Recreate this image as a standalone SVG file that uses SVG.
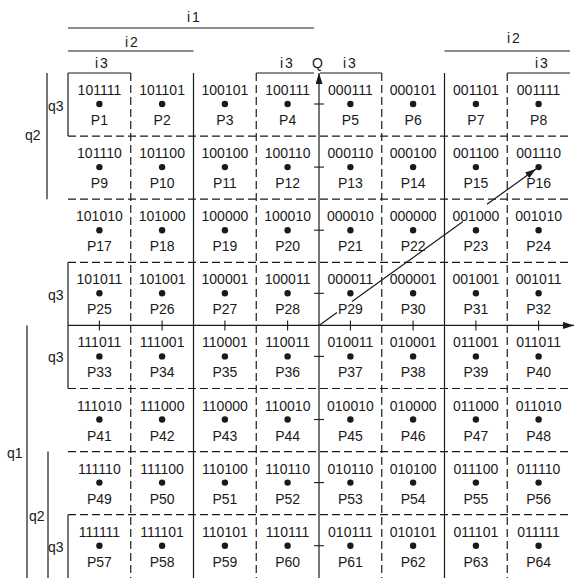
<svg xmlns="http://www.w3.org/2000/svg" width="575" height="578" viewBox="0 0 575 578">
<defs>
<marker id="ah" markerUnits="userSpaceOnUse" markerWidth="11" markerHeight="7" refX="11" refY="3.5" orient="auto">
<path d="M0,0 L11,3.5 L0,7 z" fill="#1a1a1a"/>
</marker>
</defs>
<style>
text{font-family:"Liberation Sans",Arial,sans-serif;fill:#1a1a1a;}
.b,.p{font-size:14px;text-anchor:middle;}
.lb{font-size:14px;letter-spacing:2px;}
.ln{stroke:#1a1a1a;stroke-width:1.2;fill:none;}
.ds{stroke:#1a1a1a;stroke-width:1.2;fill:none;stroke-dasharray:8 4;}
.tk{stroke:#1a1a1a;stroke-width:1.1;}
circle{fill:#1a1a1a;}
</style>
<rect width="575" height="578" fill="#fff"/>

<g id="labels">
<text class="lb" x="187" y="22">i1</text>
<line class="ln" x1="68" y1="28" x2="314" y2="28"/>
<text class="lb" x="125" y="47">i2</text>
<line class="ln" x1="68" y1="51" x2="193.5" y2="51"/>
<text class="lb" x="507" y="43">i2</text>
<line class="ln" x1="444.5" y1="51" x2="570" y2="51"/>
<text class="lb" x="95" y="68">i3</text>
<text class="lb" x="280" y="68">i3</text>
<text class="lb" x="343" y="68">i3</text>
<text class="lb" x="535" y="68">i3</text>
<text style="font-size:14px" x="312" y="68">Q</text>
<line class="ln" x1="68" y1="73" x2="130.75" y2="73"/>
<line class="ln" x1="256.25" y1="73" x2="314" y2="73"/>
<line class="ln" x1="320" y1="73" x2="381.75" y2="73"/>
<line class="ln" x1="507.25" y1="73" x2="570" y2="73"/>

<text class="lb" x="48" y="111" style="letter-spacing:0">q3</text>
<text class="lb" x="48" y="300" style="letter-spacing:0">q3</text>
<text class="lb" x="48" y="362" style="letter-spacing:0">q3</text>
<text class="lb" x="48" y="552" style="letter-spacing:0">q3</text>
<text class="lb" x="25" y="140" style="letter-spacing:0">q2</text>
<text class="lb" x="29" y="521" style="letter-spacing:0">q2</text>
<text class="lb" x="7" y="458" style="letter-spacing:0">q1</text>
<line class="ln" x1="68" y1="73" x2="68" y2="136.1"/>
<line class="ln" x1="68" y1="262.3" x2="68" y2="388.5"/>
<line class="ln" x1="68" y1="514.7" x2="68" y2="578"/>
<line class="ln" x1="47" y1="73" x2="47" y2="199.2"/>
<line class="ln" x1="48" y1="451.6" x2="48" y2="578"/>
<line class="ln" x1="27" y1="325.4" x2="27" y2="578"/>
</g>

<g id="grid">
<line class="ds" x1="130.75" y1="73" x2="130.75" y2="578"/>
<line class="ln" x1="193.5" y1="73" x2="193.5" y2="578"/>
<line class="ds" x1="256.25" y1="73" x2="256.25" y2="578"/>
<line class="ds" x1="381.75" y1="73" x2="381.75" y2="578"/>
<line class="ln" x1="444.5" y1="73" x2="444.5" y2="578"/>
<line class="ds" x1="507.25" y1="73" x2="507.25" y2="578"/>
<line class="ds" x1="68" y1="136.1" x2="570" y2="136.1"/>
<line class="ds" x1="68" y1="199.2" x2="570" y2="199.2"/>
<line class="ds" x1="68" y1="262.3" x2="570" y2="262.3"/>
<line class="ds" x1="68" y1="388.5" x2="570" y2="388.5"/>
<line class="ds" x1="68" y1="451.6" x2="570" y2="451.6"/>
<line class="ds" x1="68" y1="514.7" x2="570" y2="514.7"/>
</g>

<g id="connectors">
<line class="ln" x1="68" y1="325.4" x2="574" y2="325.4" marker-end="url(#ah)"/>
<line class="ln" x1="319" y1="578" x2="319" y2="73" marker-end="url(#ah)"/>
<g class="tk">
<line x1="314" y1="104" x2="324" y2="104"/>
<line x1="314" y1="167.1" x2="324" y2="167.1"/>
<line x1="314" y1="230.2" x2="324" y2="230.2"/>
<line x1="314" y1="293.3" x2="324" y2="293.3"/>
<line x1="314" y1="356.4" x2="324" y2="356.4"/>
<line x1="314" y1="419.5" x2="324" y2="419.5"/>
<line x1="314" y1="482.6" x2="324" y2="482.6"/>
<line x1="314" y1="545.7" x2="324" y2="545.7"/>
<line x1="99.4" y1="320.4" x2="99.4" y2="330.4"/>
<line x1="162.1" y1="320.4" x2="162.1" y2="330.4"/>
<line x1="224.9" y1="320.4" x2="224.9" y2="330.4"/>
<line x1="287.6" y1="320.4" x2="287.6" y2="330.4"/>
<line x1="350.4" y1="320.4" x2="350.4" y2="330.4"/>
<line x1="413.1" y1="320.4" x2="413.1" y2="330.4"/>
<line x1="475.9" y1="320.4" x2="475.9" y2="330.4"/>
<line x1="538.6" y1="320.4" x2="538.6" y2="330.4"/>
</g>
<line class="ln" x1="319" y1="325.4" x2="337" y2="312.4"/>
<line class="ln" x1="352" y1="301.6" x2="463" y2="221.6"/>
<line class="ln" x1="487" y1="204.3" x2="536" y2="169" marker-end="url(#ah)"/>
</g>

<g id="p1" transform="translate(99.4,73)"><text class="b" y="22">101111</text><circle cy="31" r="3.2"/><text class="p" y="52">P1</text></g>
<g id="p2" transform="translate(162.1,73)"><text class="b" y="22">101101</text><circle cy="31" r="3.2"/><text class="p" y="52">P2</text></g>
<g id="p3" transform="translate(224.9,73)"><text class="b" y="22">100101</text><circle cy="31" r="3.2"/><text class="p" y="52">P3</text></g>
<g id="p4" transform="translate(287.6,73)"><text class="b" y="22">100111</text><circle cy="31" r="3.2"/><text class="p" y="52">P4</text></g>
<g id="p5" transform="translate(350.4,73)"><text class="b" y="22">000111</text><circle cy="31" r="3.2"/><text class="p" y="52">P5</text></g>
<g id="p6" transform="translate(413.1,73)"><text class="b" y="22">000101</text><circle cy="31" r="3.2"/><text class="p" y="52">P6</text></g>
<g id="p7" transform="translate(475.9,73)"><text class="b" y="22">001101</text><circle cy="31" r="3.2"/><text class="p" y="52">P7</text></g>
<g id="p8" transform="translate(538.6,73)"><text class="b" y="22">001111</text><circle cy="31" r="3.2"/><text class="p" y="52">P8</text></g>

<g id="p9" transform="translate(99.4,136.1)"><text class="b" y="22">101110</text><circle cy="31" r="3.2"/><text class="p" y="52">P9</text></g>
<g id="p10" transform="translate(162.1,136.1)"><text class="b" y="22">101100</text><circle cy="31" r="3.2"/><text class="p" y="52">P10</text></g>
<g id="p11" transform="translate(224.9,136.1)"><text class="b" y="22">100100</text><circle cy="31" r="3.2"/><text class="p" y="52">P11</text></g>
<g id="p12" transform="translate(287.6,136.1)"><text class="b" y="22">100110</text><circle cy="31" r="3.2"/><text class="p" y="52">P12</text></g>
<g id="p13" transform="translate(350.4,136.1)"><text class="b" y="22">000110</text><circle cy="31" r="3.2"/><text class="p" y="52">P13</text></g>
<g id="p14" transform="translate(413.1,136.1)"><text class="b" y="22">000100</text><circle cy="31" r="3.2"/><text class="p" y="52">P14</text></g>
<g id="p15" transform="translate(475.9,136.1)"><text class="b" y="22">001100</text><circle cy="31" r="3.2"/><text class="p" y="52">P15</text></g>
<g id="p16" transform="translate(538.6,136.1)"><text class="b" y="22">001110</text><circle cy="31" r="3.2"/><text class="p" y="52">P16</text></g>

<g id="p17" transform="translate(99.4,199.2)"><text class="b" y="22">101010</text><circle cy="31" r="3.2"/><text class="p" y="52">P17</text></g>
<g id="p18" transform="translate(162.1,199.2)"><text class="b" y="22">101000</text><circle cy="31" r="3.2"/><text class="p" y="52">P18</text></g>
<g id="p19" transform="translate(224.9,199.2)"><text class="b" y="22">100000</text><circle cy="31" r="3.2"/><text class="p" y="52">P19</text></g>
<g id="p20" transform="translate(287.6,199.2)"><text class="b" y="22">100010</text><circle cy="31" r="3.2"/><text class="p" y="52">P20</text></g>
<g id="p21" transform="translate(350.4,199.2)"><text class="b" y="22">000010</text><circle cy="31" r="3.2"/><text class="p" y="52">P21</text></g>
<g id="p22" transform="translate(413.1,199.2)"><text class="b" y="22">000000</text><circle cy="31" r="3.2"/><text class="p" y="52">P22</text></g>
<g id="p23" transform="translate(475.9,199.2)"><text class="b" y="22">001000</text><circle cy="31" r="3.2"/><text class="p" y="52">P23</text></g>
<g id="p24" transform="translate(538.6,199.2)"><text class="b" y="22">001010</text><circle cy="31" r="3.2"/><text class="p" y="52">P24</text></g>

<g id="p25" transform="translate(99.4,262.3)"><text class="b" y="22">101011</text><circle cy="31" r="3.2"/><text class="p" y="52">P25</text></g>
<g id="p26" transform="translate(162.1,262.3)"><text class="b" y="22">101001</text><circle cy="31" r="3.2"/><text class="p" y="52">P26</text></g>
<g id="p27" transform="translate(224.9,262.3)"><text class="b" y="22">100001</text><circle cy="31" r="3.2"/><text class="p" y="52">P27</text></g>
<g id="p28" transform="translate(287.6,262.3)"><text class="b" y="22">100011</text><circle cy="31" r="3.2"/><text class="p" y="52">P28</text></g>
<g id="p29" transform="translate(350.4,262.3)"><text class="b" y="22">000011</text><circle cy="31" r="3.2"/><text class="p" y="52">P29</text></g>
<g id="p30" transform="translate(413.1,262.3)"><text class="b" y="22">000001</text><circle cy="31" r="3.2"/><text class="p" y="52">P30</text></g>
<g id="p31" transform="translate(475.9,262.3)"><text class="b" y="22">001001</text><circle cy="31" r="3.2"/><text class="p" y="52">P31</text></g>
<g id="p32" transform="translate(538.6,262.3)"><text class="b" y="22">001011</text><circle cy="31" r="3.2"/><text class="p" y="52">P32</text></g>

<g id="p33" transform="translate(99.4,325.4)"><text class="b" y="22">111011</text><circle cy="31" r="3.2"/><text class="p" y="52">P33</text></g>
<g id="p34" transform="translate(162.1,325.4)"><text class="b" y="22">111001</text><circle cy="31" r="3.2"/><text class="p" y="52">P34</text></g>
<g id="p35" transform="translate(224.9,325.4)"><text class="b" y="22">110001</text><circle cy="31" r="3.2"/><text class="p" y="52">P35</text></g>
<g id="p36" transform="translate(287.6,325.4)"><text class="b" y="22">110011</text><circle cy="31" r="3.2"/><text class="p" y="52">P36</text></g>
<g id="p37" transform="translate(350.4,325.4)"><text class="b" y="22">010011</text><circle cy="31" r="3.2"/><text class="p" y="52">P37</text></g>
<g id="p38" transform="translate(413.1,325.4)"><text class="b" y="22">010001</text><circle cy="31" r="3.2"/><text class="p" y="52">P38</text></g>
<g id="p39" transform="translate(475.9,325.4)"><text class="b" y="22">011001</text><circle cy="31" r="3.2"/><text class="p" y="52">P39</text></g>
<g id="p40" transform="translate(538.6,325.4)"><text class="b" y="22">011011</text><circle cy="31" r="3.2"/><text class="p" y="52">P40</text></g>

<g id="p41" transform="translate(99.4,388.5)"><text class="b" y="22">111010</text><circle cy="31" r="3.2"/><text class="p" y="52">P41</text></g>
<g id="p42" transform="translate(162.1,388.5)"><text class="b" y="22">111000</text><circle cy="31" r="3.2"/><text class="p" y="52">P42</text></g>
<g id="p43" transform="translate(224.9,388.5)"><text class="b" y="22">110000</text><circle cy="31" r="3.2"/><text class="p" y="52">P43</text></g>
<g id="p44" transform="translate(287.6,388.5)"><text class="b" y="22">110010</text><circle cy="31" r="3.2"/><text class="p" y="52">P44</text></g>
<g id="p45" transform="translate(350.4,388.5)"><text class="b" y="22">010010</text><circle cy="31" r="3.2"/><text class="p" y="52">P45</text></g>
<g id="p46" transform="translate(413.1,388.5)"><text class="b" y="22">010000</text><circle cy="31" r="3.2"/><text class="p" y="52">P46</text></g>
<g id="p47" transform="translate(475.9,388.5)"><text class="b" y="22">011000</text><circle cy="31" r="3.2"/><text class="p" y="52">P47</text></g>
<g id="p48" transform="translate(538.6,388.5)"><text class="b" y="22">011010</text><circle cy="31" r="3.2"/><text class="p" y="52">P48</text></g>

<g id="p49" transform="translate(99.4,451.6)"><text class="b" y="22">111110</text><circle cy="31" r="3.2"/><text class="p" y="52">P49</text></g>
<g id="p50" transform="translate(162.1,451.6)"><text class="b" y="22">111100</text><circle cy="31" r="3.2"/><text class="p" y="52">P50</text></g>
<g id="p51" transform="translate(224.9,451.6)"><text class="b" y="22">110100</text><circle cy="31" r="3.2"/><text class="p" y="52">P51</text></g>
<g id="p52" transform="translate(287.6,451.6)"><text class="b" y="22">110110</text><circle cy="31" r="3.2"/><text class="p" y="52">P52</text></g>
<g id="p53" transform="translate(350.4,451.6)"><text class="b" y="22">010110</text><circle cy="31" r="3.2"/><text class="p" y="52">P53</text></g>
<g id="p54" transform="translate(413.1,451.6)"><text class="b" y="22">010100</text><circle cy="31" r="3.2"/><text class="p" y="52">P54</text></g>
<g id="p55" transform="translate(475.9,451.6)"><text class="b" y="22">011100</text><circle cy="31" r="3.2"/><text class="p" y="52">P55</text></g>
<g id="p56" transform="translate(538.6,451.6)"><text class="b" y="22">011110</text><circle cy="31" r="3.2"/><text class="p" y="52">P56</text></g>

<g id="p57" transform="translate(99.4,514.7)"><text class="b" y="22">111111</text><circle cy="31" r="3.2"/><text class="p" y="52">P57</text></g>
<g id="p58" transform="translate(162.1,514.7)"><text class="b" y="22">111101</text><circle cy="31" r="3.2"/><text class="p" y="52">P58</text></g>
<g id="p59" transform="translate(224.9,514.7)"><text class="b" y="22">110101</text><circle cy="31" r="3.2"/><text class="p" y="52">P59</text></g>
<g id="p60" transform="translate(287.6,514.7)"><text class="b" y="22">110111</text><circle cy="31" r="3.2"/><text class="p" y="52">P60</text></g>
<g id="p61" transform="translate(350.4,514.7)"><text class="b" y="22">010111</text><circle cy="31" r="3.2"/><text class="p" y="52">P61</text></g>
<g id="p62" transform="translate(413.1,514.7)"><text class="b" y="22">010101</text><circle cy="31" r="3.2"/><text class="p" y="52">P62</text></g>
<g id="p63" transform="translate(475.9,514.7)"><text class="b" y="22">011101</text><circle cy="31" r="3.2"/><text class="p" y="52">P63</text></g>
<g id="p64" transform="translate(538.6,514.7)"><text class="b" y="22">011111</text><circle cy="31" r="3.2"/><text class="p" y="52">P64</text></g>
</svg>
